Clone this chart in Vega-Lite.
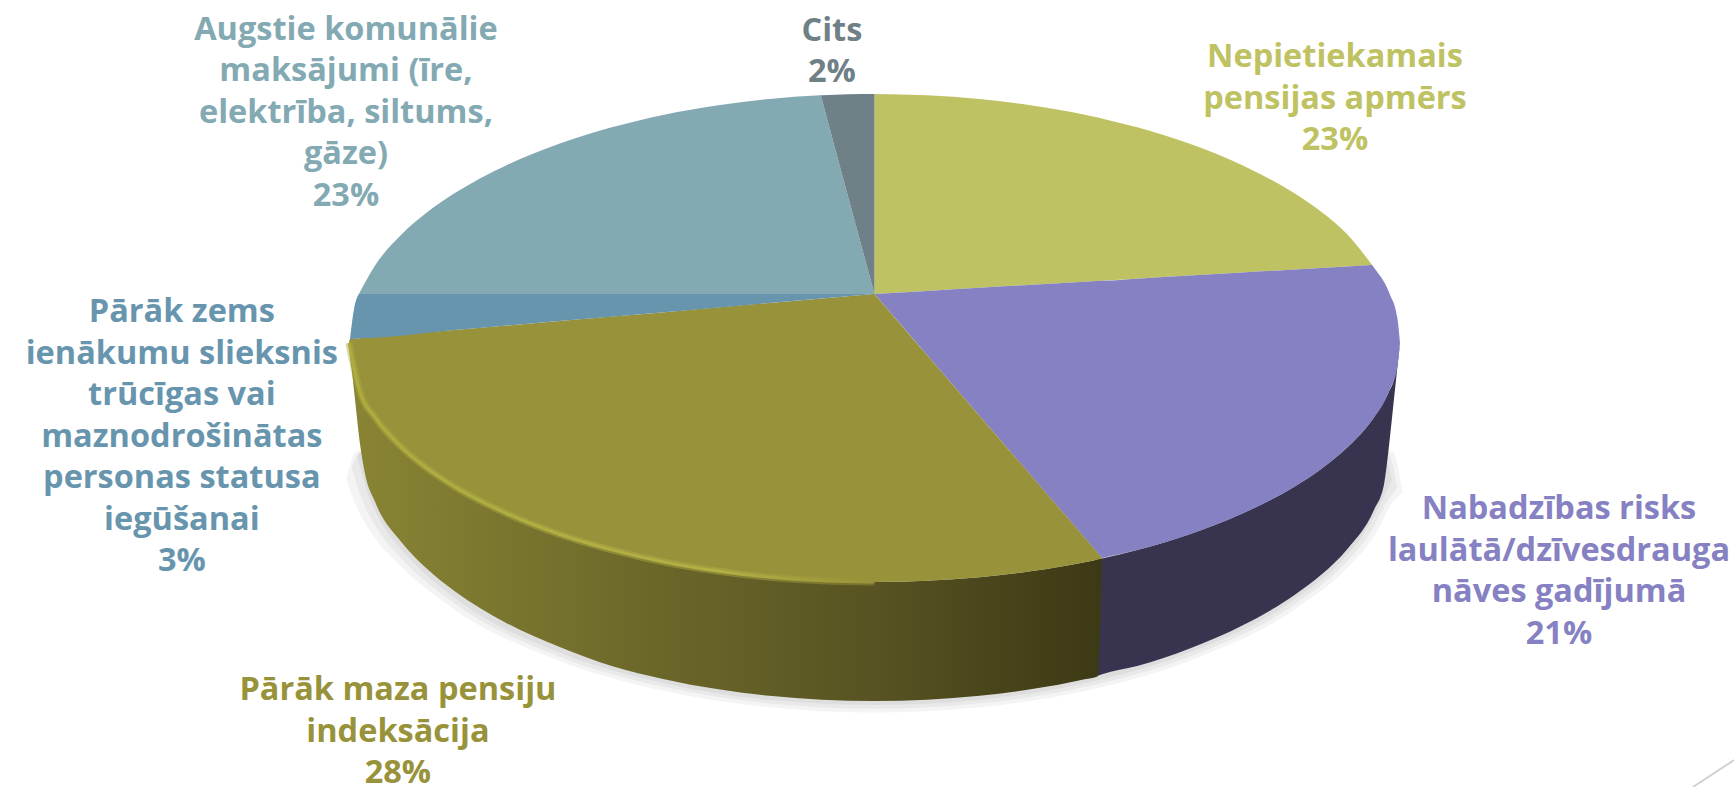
{"$schema":"https://vega.github.io/schema/vega-lite/v6.json","width":1734,"height":787,"padding":0,"autosize":{"type":"none"},"background":"white","config":{"view":{"stroke":null}},
"datasets":{
"shadow":[
{"band":"A","x":-0.985,"y":-0.45,"y2":-0.45},{"band":"A","x":-0.965,"y":-0.434,"y2":-0.6},{"band":"A","x":-0.936,"y":-0.434,"y2":-0.73},{"band":"A","x":-0.887,"y":-0.434,"y2":-0.86},{"band":"A","x":-0.788,"y":-0.434,"y2":-1.04},{"band":"A","x":-0.591,"y":-0.434,"y2":-1.25},{"band":"A","x":-0.394,"y":-0.434,"y2":-1.369},{"band":"A","x":-0.197,"y":-0.434,"y2":-1.434},{"band":"A","x":0,"y":-0.434,"y2":-1.454},{"band":"A","x":0.197,"y":-0.434,"y2":-1.434},{"band":"A","x":0.394,"y":-0.434,"y2":-1.369},{"band":"A","x":0.591,"y":-0.434,"y2":-1.25},{"band":"A","x":0.788,"y":-0.434,"y2":-1.046},{"band":"A","x":0.887,"y":-0.434,"y2":-0.879},{"band":"A","x":0.936,"y":-0.434,"y2":-0.752},{"band":"A","x":0.965,"y":-0.434,"y2":-0.637},{"band":"A","x":0.985,"y":-0.55,"y2":-0.55},
{"band":"B","x":-0.995,"y":-0.5,"y2":-0.5},{"band":"B","x":-0.975,"y":-0.434,"y2":-0.63},{"band":"B","x":-0.945,"y":-0.434,"y2":-0.75},{"band":"B","x":-0.896,"y":-0.434,"y2":-0.875},{"band":"B","x":-0.796,"y":-0.434,"y2":-1.05},{"band":"B","x":-0.597,"y":-0.434,"y2":-1.262},{"band":"B","x":-0.398,"y":-0.434,"y2":-1.383},{"band":"B","x":-0.199,"y":-0.434,"y2":-1.448},{"band":"B","x":0,"y":-0.434,"y2":-1.469},{"band":"B","x":0.199,"y":-0.434,"y2":-1.448},{"band":"B","x":0.398,"y":-0.434,"y2":-1.383},{"band":"B","x":0.597,"y":-0.434,"y2":-1.262},{"band":"B","x":0.796,"y":-0.434,"y2":-1.055},{"band":"B","x":0.896,"y":-0.434,"y2":-0.885},{"band":"B","x":0.945,"y":-0.434,"y2":-0.757},{"band":"B","x":0.975,"y":-0.434,"y2":-0.64},{"band":"B","x":0.995,"y":-0.58,"y2":-0.58},
{"band":"C","x":-1.005,"y":-0.55,"y2":-0.55},{"band":"C","x":-0.985,"y":-0.434,"y2":-0.66},{"band":"C","x":-0.955,"y":-0.434,"y2":-0.77},{"band":"C","x":-0.905,"y":-0.434,"y2":-0.89},{"band":"C","x":-0.804,"y":-0.434,"y2":-1.064},{"band":"C","x":-0.603,"y":-0.434,"y2":-1.274},{"band":"C","x":-0.402,"y":-0.434,"y2":-1.397},{"band":"C","x":-0.201,"y":-0.434,"y2":-1.463},{"band":"C","x":0,"y":-0.434,"y2":-1.484},{"band":"C","x":0.201,"y":-0.434,"y2":-1.463},{"band":"C","x":0.402,"y":-0.434,"y2":-1.397},{"band":"C","x":0.603,"y":-0.434,"y2":-1.274},{"band":"C","x":0.804,"y":-0.434,"y2":-1.064},{"band":"C","x":0.905,"y":-0.434,"y2":-0.892},{"band":"C","x":0.955,"y":-0.434,"y2":-0.762},{"band":"C","x":0.985,"y":-0.434,"y2":-0.643},{"band":"C","x":1.005,"y":-0.6,"y2":-0.6}
],
"wallPurple":[
{"x":0.42,"y":-0.871,"y2":-1.34},{"x":0.433,"y":-0.865,"y2":-1.33},{"x":0.5,"y":-0.831,"y2":-1.297},{"x":0.6,"y":-0.768,"y2":-1.227},{"x":0.7,"y":-0.685,"y2":-1.135},{"x":0.8,"y":-0.576,"y2":-1.011},{"x":0.85,"y":-0.506,"y2":-0.931},{"x":0.9,"y":-0.419,"y2":-0.827},{"x":0.95,"y":-0.3,"y2":-0.673},{"x":0.97,"y":-0.233,"y2":-0.563},{"x":0.978,"y":-0.2,"y2":-0.434},{"x":0.99,"y":-0.135,"y2":-0.197},{"x":1,"y":0,"y2":0}
],
"wallOlive":[
{"x":-1,"y":0,"y2":0},{"x":-0.99,"y":-0.135,"y2":-0.197},{"x":-0.978,"y":-0.2,"y2":-0.42},{"x":-0.97,"y":-0.233,"y2":-0.52},{"x":-0.95,"y":-0.3,"y2":-0.64},{"x":-0.9,"y":-0.419,"y2":-0.8},{"x":-0.85,"y":-0.506,"y2":-0.91},{"x":-0.8,"y":-0.576,"y2":-0.995},{"x":-0.7,"y":-0.685,"y2":-1.125},{"x":-0.6,"y":-0.768,"y2":-1.22},{"x":-0.5,"y":-0.831,"y2":-1.297},{"x":-0.4,"y":-0.88,"y2":-1.35},{"x":-0.3,"y":-0.916,"y2":-1.39},{"x":-0.2,"y":-0.941,"y2":-1.417},{"x":-0.1,"y":-0.955,"y2":-1.433},{"x":0,"y":-0.96,"y2":-1.438},{"x":0.1,"y":-0.955,"y2":-1.433},{"x":0.2,"y":-0.941,"y2":-1.417},{"x":0.3,"y":-0.916,"y2":-1.39},{"x":0.4,"y":-0.88,"y2":-1.35},{"x":0.425,"y":-0.869,"y2":-1.338},{"x":0.433,"y":-0.865,"y2":-0.865}
],
"faces":[
{"slice":"Nepietiekamais","x":0,"y":1,"y2":0.197},{"slice":"Nepietiekamais","x":0.1,"y":0.995,"y2":0.209},{"slice":"Nepietiekamais","x":0.2,"y":0.98,"y2":0.222},{"slice":"Nepietiekamais","x":0.3,"y":0.954,"y2":0.234},{"slice":"Nepietiekamais","x":0.4,"y":0.917,"y2":0.246},{"slice":"Nepietiekamais","x":0.5,"y":0.866,"y2":0.258},{"slice":"Nepietiekamais","x":0.6,"y":0.8,"y2":0.271},{"slice":"Nepietiekamais","x":0.7,"y":0.714,"y2":0.283},{"slice":"Nepietiekamais","x":0.8,"y":0.6,"y2":0.295},{"slice":"Nepietiekamais","x":0.85,"y":0.527,"y2":0.301},{"slice":"Nepietiekamais","x":0.9,"y":0.436,"y2":0.307},{"slice":"Nepietiekamais","x":0.947,"y":0.313,"y2":0.313},
{"slice":"Nabadzibas","x":0,"y":0.197,"y2":0.197},{"slice":"Nabadzibas","x":0.1,"y":0.209,"y2":-0.048},{"slice":"Nabadzibas","x":0.2,"y":0.222,"y2":-0.293},{"slice":"Nabadzibas","x":0.3,"y":0.234,"y2":-0.537},{"slice":"Nabadzibas","x":0.4,"y":0.246,"y2":-0.782},{"slice":"Nabadzibas","x":0.431,"y":0.25,"y2":-0.858},{"slice":"Nabadzibas","x":0.433,"y":0.25,"y2":-0.863},{"slice":"Nabadzibas","x":0.435,"y":0.25,"y2":-0.862},{"slice":"Nabadzibas","x":0.5,"y":0.258,"y2":-0.831},{"slice":"Nabadzibas","x":0.6,"y":0.271,"y2":-0.768},{"slice":"Nabadzibas","x":0.7,"y":0.283,"y2":-0.685},{"slice":"Nabadzibas","x":0.8,"y":0.295,"y2":-0.576},{"slice":"Nabadzibas","x":0.85,"y":0.301,"y2":-0.506},{"slice":"Nabadzibas","x":0.9,"y":0.307,"y2":-0.419},{"slice":"Nabadzibas","x":0.945,"y":0.3128,"y2":-0.314},{"slice":"Nabadzibas","x":0.947,"y":0.313,"y2":-0.308},{"slice":"Nabadzibas","x":0.949,"y":0.307,"y2":-0.303},{"slice":"Nabadzibas","x":0.98,"y":0.199,"y2":-0.191},{"slice":"Nabadzibas","x":0.995,"y":0.1,"y2":-0.096},{"slice":"Nabadzibas","x":1,"y":0,"y2":0},
{"slice":"Maza","x":-1,"y":0,"y2":0},{"slice":"Maza","x":-0.998,"y":0.016,"y2":-0.06},{"slice":"Maza","x":-0.98,"y":0.019,"y2":-0.191},{"slice":"Maza","x":-0.95,"y":0.025,"y2":-0.3},{"slice":"Maza","x":-0.9,"y":0.034,"y2":-0.419},{"slice":"Maza","x":-0.85,"y":0.043,"y2":-0.506},{"slice":"Maza","x":-0.8,"y":0.052,"y2":-0.576},{"slice":"Maza","x":-0.7,"y":0.07,"y2":-0.685},{"slice":"Maza","x":-0.6,"y":0.088,"y2":-0.768},{"slice":"Maza","x":-0.5,"y":0.106,"y2":-0.831},{"slice":"Maza","x":-0.4,"y":0.124,"y2":-0.88},{"slice":"Maza","x":-0.3,"y":0.143,"y2":-0.916},{"slice":"Maza","x":-0.2,"y":0.161,"y2":-0.941},{"slice":"Maza","x":-0.1,"y":0.179,"y2":-0.955},{"slice":"Maza","x":-0.002,"y":0.1966,"y2":-0.96},{"slice":"Maza","x":0,"y":0.197,"y2":-0.96},{"slice":"Maza","x":0.002,"y":0.192,"y2":-0.96},{"slice":"Maza","x":0.1,"y":-0.048,"y2":-0.955},{"slice":"Maza","x":0.2,"y":-0.293,"y2":-0.941},{"slice":"Maza","x":0.3,"y":-0.537,"y2":-0.916},{"slice":"Maza","x":0.4,"y":-0.782,"y2":-0.88},{"slice":"Maza","x":0.433,"y":-0.863,"y2":-0.865},
{"slice":"Zems","x":-0.998,"y":0.016,"y2":0.016},{"slice":"Zems","x":-0.99,"y":0.141,"y2":0.017},{"slice":"Zems","x":-0.983,"y":0.19,"y2":0.018},{"slice":"Zems","x":-0.981,"y":0.197,"y2":0.019},{"slice":"Zems","x":-0.979,"y":0.197,"y2":0.019},{"slice":"Zems","x":-0.8,"y":0.197,"y2":0.052},{"slice":"Zems","x":-0.6,"y":0.197,"y2":0.088},{"slice":"Zems","x":-0.4,"y":0.197,"y2":0.124},{"slice":"Zems","x":-0.2,"y":0.197,"y2":0.161},{"slice":"Zems","x":0,"y":0.197,"y2":0.197},
{"slice":"Augstie","x":-0.981,"y":0.197,"y2":0.197},{"slice":"Augstie","x":-0.95,"y":0.312,"y2":0.197},{"slice":"Augstie","x":-0.9,"y":0.436,"y2":0.197},{"slice":"Augstie","x":-0.85,"y":0.527,"y2":0.197},{"slice":"Augstie","x":-0.8,"y":0.6,"y2":0.197},{"slice":"Augstie","x":-0.7,"y":0.714,"y2":0.197},{"slice":"Augstie","x":-0.6,"y":0.8,"y2":0.197},{"slice":"Augstie","x":-0.5,"y":0.866,"y2":0.197},{"slice":"Augstie","x":-0.4,"y":0.917,"y2":0.197},{"slice":"Augstie","x":-0.3,"y":0.954,"y2":0.197},{"slice":"Augstie","x":-0.2,"y":0.98,"y2":0.197},{"slice":"Augstie","x":-0.104,"y":0.9948,"y2":0.197},{"slice":"Augstie","x":-0.102,"y":0.995,"y2":0.197},{"slice":"Augstie","x":-0.1,"y":0.979,"y2":0.197},{"slice":"Augstie","x":-0.05,"y":0.5865,"y2":0.197},{"slice":"Augstie","x":0,"y":0.197,"y2":0.197},
{"slice":"Cits","x":-0.102,"y":0.995,"y2":0.995},{"slice":"Cits","x":-0.1,"y":0.9952,"y2":0.979},{"slice":"Cits","x":-0.05,"y":0.999,"y2":0.5865},{"slice":"Cits","x":0,"y":1,"y2":0.197}
],
"rim":[
{"x":-1,"y":0},{"x":-0.98,"y":-0.191},{"x":-0.95,"y":-0.3},{"x":-0.9,"y":-0.419},{"x":-0.85,"y":-0.506},{"x":-0.8,"y":-0.576},{"x":-0.7,"y":-0.685},{"x":-0.6,"y":-0.768},{"x":-0.5,"y":-0.831},{"x":-0.4,"y":-0.88},{"x":-0.3,"y":-0.916},{"x":-0.2,"y":-0.941},{"x":-0.1,"y":-0.955},{"x":0,"y":-0.96}
],
"labels":[
{"slice":"Nepietiekamais","text":"Nepietiekamais\npensijas apmērs\n23%","share":23,"x":0.8763,"y":1.108},
{"slice":"Nabadzibas","text":"Nabadzības risks\nlaulātā/dzīvesdrauga\nnāves gadījumā\n21%","share":21,"x":1.3026,"y":-0.707},
{"slice":"Maza","text":"Pārāk maza pensiju\nindeksācija\n28%","share":28,"x":-0.9068,"y":-1.434},
{"slice":"Zems","text":"Pārāk zems\nienākumu slieksnis\ntrūcīgas vai\nmaznodrošinātas\npersonas statusa\niegūšanai\n3%","share":3,"x":-1.318,"y":0.084},
{"slice":"Augstie","text":"Augstie komunālie\nmaksājumi (īre,\nelektrība, siltums,\ngāze)\n23%","share":23,"x":-1.0057,"y":1.2169},
{"slice":"Cits","text":"Cits\n2%","share":2,"x":-0.081,"y":1.214}
],
"corner":[{"x":1.5575,"y":-1.783},{"x":1.6356,"y":-1.675}]
},
"encoding":{
"x":{"field":"x","type":"quantitative","axis":null,"scale":{"domain":[-1.664,1.6356],"nice":false,"zero":false}},
"y":{"field":"y","type":"quantitative","axis":null,"scale":{"domain":[-1.7831,1.3775],"nice":false,"zero":false}}
},
"layer":[
{"data":{"name":"shadow"},"mark":{"type":"area","fill":"#000000","fillOpacity":0.045,"interpolate":"monotone"},"encoding":{"y2":{"field":"y2"},"detail":{"field":"band"}}},
{"data":{"name":"wallPurple"},"mark":{"type":"area","fill":"#38344f","interpolate":"monotone"},"encoding":{"y2":{"field":"y2"}}},
{"data":{"name":"wallOlive"},"mark":{"type":"area","interpolate":"monotone","fill":{"gradient":"linear","x1":0,"y1":0,"x2":1,"y2":0,"stops":[{"offset":0,"color":"#8a8534"},{"offset":0.35,"color":"#6f6b2b"},{"offset":0.7,"color":"#575322"},{"offset":1,"color":"#3c3915"}]}},"encoding":{"y2":{"field":"y2"}}},
{"data":{"name":"faces"},"mark":{"type":"area","interpolate":"monotone"},"encoding":{"y2":{"field":"y2"},"color":{"field":"slice","type":"nominal","legend":null,"scale":{"domain":["Nepietiekamais","Nabadzibas","Maza","Zems","Augstie","Cits"],"range":["#bfc262","#8581c2","#98933a","#6895ae","#83a9b3","#6f8086"]}}}},
{"data":{"name":"rim"},"mark":{"type":"line","interpolate":"monotone","strokeWidth":7,"strokeOpacity":0.45,"strokeCap":"butt","stroke":{"gradient":"linear","x1":0,"y1":0,"x2":1,"y2":0,"stops":[{"offset":0,"color":"#aeab3f"},{"offset":0.7,"color":"#b3b045"},{"offset":1,"color":"#98933a"}]}}},
{"data":{"name":"rim"},"mark":{"type":"line","interpolate":"monotone","strokeWidth":3,"strokeCap":"butt","stroke":{"gradient":"linear","x1":0,"y1":0,"x2":1,"y2":0,"stops":[{"offset":0,"color":"#aeab3f"},{"offset":0.7,"color":"#b3b045"},{"offset":1,"color":"#98933a"}]}}},
{"data":{"name":"corner"},"mark":{"type":"line","stroke":"#d2d2d2","strokeWidth":2}},
{"data":{"name":"labels"},"mark":{"type":"text","font":"Open Sans","fontWeight":"bold","fontSize":32.5,"lineBreak":"\n","lineHeight":41.5,"align":"center","baseline":"alphabetic"},"encoding":{"text":{"field":"text"},"color":{"field":"slice","type":"nominal","legend":null}}}
]
}
